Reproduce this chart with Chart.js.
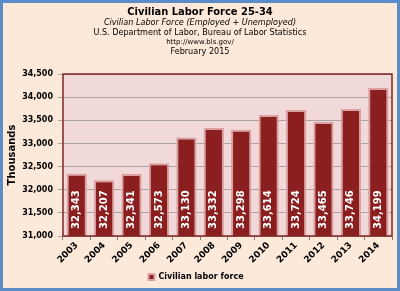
<!DOCTYPE html>
<html>
<head>
<meta charset="utf-8">
<script src="https://cdn.jsdelivr.net/npm/chart.js@4"></script>
<style>
  html, body { margin: 0; padding: 0; background: #fde9d9; }
  #wrap { width: 400px; height: 291px; }
</style>
</head>
<body>
<div id="wrap"><canvas id="grafico" width="400" height="291"></canvas></div>
<script>
const years = ['2003', '2004', '2005', '2006', '2007', '2008', '2009', '2010', '2011', '2012', '2013', '2014'];
const laborForce = [32343, 32207, 32341, 32573, 33130, 33332, 33298, 33614, 33724, 33465, 33746, 34199];
const headerLines = [
  ['Civilian Labor Force 25-34', 'bold 11px "DejaVu Sans Condensed", "DejaVu Sans"', 12],
  ['Civilian Labor Force (Employed + Unemployed)', 'italic 9px "DejaVu Sans Condensed", "DejaVu Sans"', 23],
  ['U.S. Department of Labor, Bureau of Labor Statistics', '9px "DejaVu Sans Condensed", "DejaVu Sans"', 33],
  ['http://www.bls.gov/', '7px "DejaVu Sans"', 42],
  ['February 2015', '9px "DejaVu Sans Condensed", "DejaVu Sans"', 52]
];

function fmt(v) {
  return String(v).replace(/\B(?=(\d{3})+(?!\d))/g, ',');
}

// fondo, borde azul, encabezado y fondo del area
const fondo = {
  id: 'fondo',
  beforeDraw(chart) {
    const c = chart.ctx, a = chart.chartArea;
    c.save();
    c.fillStyle = '#fde9d9';
    c.fillRect(0, 0, chart.width, chart.height);
    c.strokeStyle = '#5b8cc8';
    c.lineWidth = 3;
    c.strokeRect(1.5, 1.5, chart.width - 3, chart.height - 3);
    c.fillStyle = '#f2d9d9';
    c.fillRect(a.left, a.top, a.right - a.left, a.bottom - a.top);
    c.fillStyle = '#000';
    c.textAlign = 'center';
    c.textBaseline = 'middle';
    headerLines.forEach(l => {
      c.font = l[1];
      c.fillText(l[0], 200, l[2]);
    });
    c.restore();
  },
  afterDraw(chart) {
    const c = chart.ctx, a = chart.chartArea;
    const xs = chart.scales.x, ys = chart.scales.y;
    c.save();
    c.strokeStyle = '#7f2424';
    c.lineWidth = 1.5;
    c.strokeRect(a.left, a.top, a.right - a.left, a.bottom - a.top);
    // etiquetas dentro de las barras
    c.fillStyle = '#ffffff';
    c.font = 'bold 10px "DejaVu Sans"';
    c.textAlign = 'left';
    c.textBaseline = 'middle';
    for (let i = 0; i < laborForce.length; i++) {
      const x = xs.getPixelForValue(i);
      const y = ys.getPixelForValue(31000) - 7;
      c.save();
      c.translate(x, y);
      c.rotate(-Math.PI / 2);
      c.fillText(fmt(laborForce[i]), 0, 0);
      c.restore();
    }
    c.restore();
  }
};

new Chart(document.getElementById('grafico').getContext('2d'), {
  type: 'bar',
  data: {
    labels: years,
    datasets: [{
      label: 'Civilian labor force',
      data: laborForce,
      backgroundColor: '#8b1e1e',
      borderColor: '#dba0a0',
      borderWidth: 2,
      barPercentage: 0.74,
      categoryPercentage: 1
    }]
  },
  options: {
    responsive: false,
    animation: false,
    layout: { padding: { top: 74, right: 8, left: 0, bottom: 0 } },
    plugins: {
      legend: {
        position: 'bottom',
        labels: {
          boxWidth: 6,
          boxHeight: 6,
          padding: 4,
          color: '#000',
          font: { family: 'DejaVu Sans', size: 8, weight: 'bold' }
        }
      },
      tooltip: { enabled: false }
    },
    scales: {
      x: {
        offset: true,
        grid: { offset: true, drawOnChartArea: false, tickLength: 4, color: '#7f7f7f' },
        border: { display: false },
        ticks: {
          minRotation: 45, maxRotation: 45, padding: 0,
          color: '#000',
          font: { family: 'DejaVu Sans', size: 9, weight: 'bold' }
        },
        afterFit(s) { s.height = 33; }
      },
      y: {
        min: 31000, max: 34500,
        grid: { color: '#a9a3a3', tickLength: 5, drawTicks: true },
        border: { display: false },
        title: {
          display: true, text: 'Thousands', color: '#000', padding: { top: 6, bottom: 0 },
          font: { family: 'DejaVu Sans', size: 10, weight: 'bold' }
        },
        ticks: {
          stepSize: 500, padding: 5, color: '#000',
          font: { family: 'DejaVu Sans', size: 8, weight: 'bold' },
          callback: v => fmt(v)
        },
        afterFit(s) { s.width = 63; }
      }
    }
  },
  plugins: [fondo]
});
</script>
</body>
</html>
